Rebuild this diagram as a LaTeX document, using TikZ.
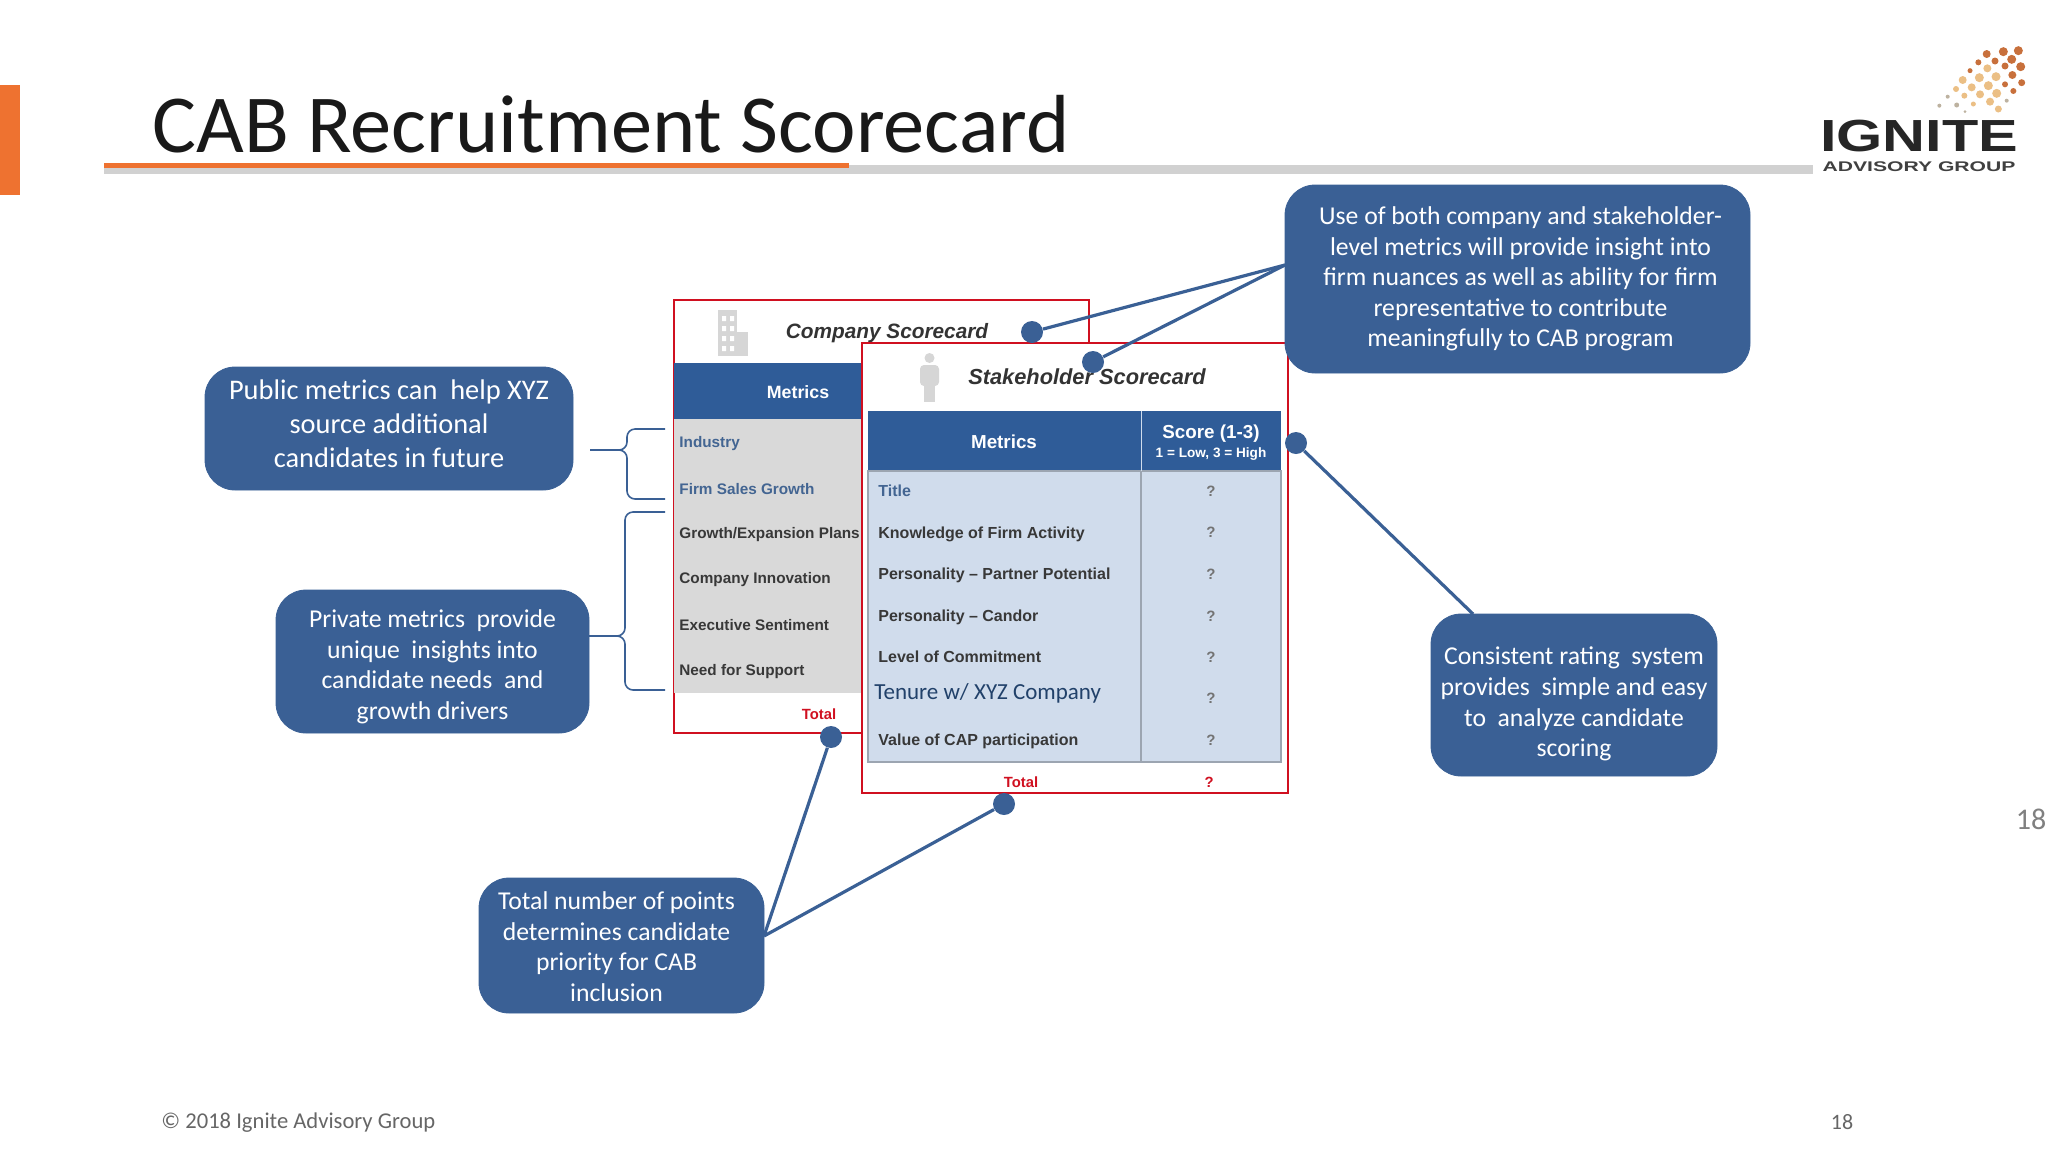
\documentclass[tikz,border=0pt]{standalone}
\usepackage{fontspec}
\setmainfont{Carlito}
\newfontfamily\tablefont{Liberation Sans}
\usetikzlibrary{shapes.geometric, arrows}
\definecolor{calloutblue}{HTML}{3A6095}
\definecolor{headblue}{HTML}{2F5C98}
\definecolor{rowblue}{HTML}{D0DCEC}
\definecolor{rowgray}{HTML}{D9D9D9}
\definecolor{framered}{HTML}{D01020}
\definecolor{iconsgray}{HTML}{D6D6D6}
\definecolor{barorange}{HTML}{EE7230}
\definecolor{logoA}{HTML}{C8703C}
\definecolor{logoB}{HTML}{EBBF85}
\definecolor{logoC}{HTML}{BDB2A0}
\tikzstyle{callout} = [rectangle, rounded corners=15pt, inner sep=0pt, align=center, text=white, fill=calloutblue, draw=calloutblue]
\tikzstyle{smalltext} = [font=\fontsize{12.85}{15.3}\selectfont]
\tikzstyle{scoreframe} = [rectangle, inner sep=0pt, draw=framered, line width=1pt]
\tikzstyle{headcell} = [rectangle, inner sep=0pt, fill=headblue, text=white, font=\tablefont\bfseries\fontsize{9.4}{11}\selectfont]
\tikzstyle{bodycell} = [rectangle, inner sep=0pt, draw=black!25!rowblue, line width=0.8pt, fill=rowblue]
\tikzstyle{cardtitle} = [inner sep=0pt, text=black!80, font=\tablefont\bfseries\itshape\fontsize{10.4}{12}\selectfont]
\tikzstyle{metric} = [anchor=west, inner sep=0pt, text=black!78, font=\tablefont\bfseries\fontsize{8}{9}\selectfont]
\tikzstyle{compmetric} = [metric, font=\tablefont\bfseries\fontsize{7.65}{9}\selectfont]
\tikzstyle{publicmetric} = [compmetric, text=headblue!75!gray]
\tikzstyle{scoremark} = [inner sep=0pt, text=black!55, font=\tablefont\bfseries\fontsize{7.5}{9}\selectfont]
\tikzstyle{totaltext} = [inner sep=0pt, text=framered, font=\tablefont\bfseries\fontsize{7.4}{9}\selectfont]
\tikzstyle{dot} = [circle, inner sep=0pt, minimum size=11pt, fill=calloutblue]
\tikzstyle{leader} = [line width=1.6pt, draw=calloutblue]
\tikzstyle{brace} = [line width=0.8pt, draw=calloutblue, rounded corners=4pt]
\begin{document}
\begin{tikzpicture}[x=0.5pt, y=-0.5pt]
\useasboundingbox (0,0) rectangle (2048,1152);

% Title and footer
\fill [barorange] (0,85) rectangle (20,195);
\node (title) [anchor=base west, inner sep=0pt, text=black!90, font=\fontsize{41.2}{44}\selectfont] at (152,152) {CAB Recruitment Scorecard};
\fill [black!18] (104,165) rectangle (1813,174);
\fill [barorange] (104,163) rectangle (849,168);
\node (copyright) [anchor=west, inner sep=0pt, text=black!60, font=\fontsize{11.3}{13}\selectfont] at (161,1123) {© 2018 Ignite Advisory Group};
\node (pagenum) [inner sep=0pt, text=black!60, font=\fontsize{11}{13}\selectfont] at (1842,1122) {18};
\node (sidenum) [inner sep=0pt, text=black!50, font=\fontsize{15}{17}\selectfont] at (2031,819) {18};

% Logo
\foreach \zx/\zy/\zc/\zr in {715/62/logoA/4.5, 670/65/logoA/4.5, 620/72/logoA/4, 695/88/logoA/4.5, 645/93/logoA/3.5, 595/97/logoA/3, 722/110/logoA/4.5, 675/108/logoA/3.5, 622/115/logoB/4, 570/122/logoA/2.5, 697/135/logoA/4, 648/140/logoB/4.5, 598/143/logoB/4.5, 548/150/logoB/4, 725/158/logoA/3.5, 675/163/logoA/3, 625/167/logoB/4.5, 575/172/logoB/4, 528/177/logoB/3, 700/183/logoA/3, 650/190/logoB/4.5, 600/193/logoB/4, 553/197/logoB/3, 503/200/logoC/2, 680/212/logoC/2, 630/215/logoB/4, 580/222/logoB/2.5, 530/225/logoC/2.5, 478/227/logoC/2, 655/237/logoB/3.5, 555/245/logoC/1.5}
  \fill [\zc] ({1780+\zx/3},{30+\zy/3}) circle (\zr);
\node (ignite) [inner sep=0pt, xscale=1.32, text=black!85, font=\tablefont\bfseries\fontsize{22.5}{24}\selectfont] at (1919,136) {IGNITE};
\node (advisory) [inner sep=0pt, xscale=1.51, text=black!75, font=\tablefont\bfseries\fontsize{7}{8}\selectfont] at (1919,167) {ADVISORY GROUP};

% Company scorecard
\node (company) [scoreframe, minimum width=207.5pt, minimum height=216.5pt] at (881.5,516.5) {};
\node (comphead) [headcell, minimum width=94pt, minimum height=28pt] at (768,391) {};
\node (compbody) [rectangle, inner sep=0pt, fill=rowgray, minimum width=94pt, minimum height=137pt] at (768,556) {};
\fill [iconsgray] (718,310) rectangle (737,356);
\fill [iconsgray] (737,332) rectangle (748,356);
\foreach \wy in {316,326,336,346}
  \fill [white] (722,\wy) rectangle (726,\wy+5) (730,\wy) rectangle (734,\wy+5);
\node (comptitle) [cardtitle] at (887,333) {Company Scorecard};
\node (compmetrics) [headcell, font=\tablefont\bfseries\fontsize{8.9}{11}\selectfont] at (798,392) {Metrics};
\node (industry) [publicmetric] at (679,444) {Industry};
\node (sales) [publicmetric] at (679,489) {Firm Sales Growth};
\node (growth) [compmetric] at (679,535) {Growth/Expansion Plans};
\node (innovation) [compmetric] at (679,580) {Company Innovation};
\node (sentiment) [compmetric] at (679,625) {Executive Sentiment};
\node (support) [compmetric] at (679,672) {Need for Support};
\node (comptotal) [totaltext] at (819,714) {Total};

% Stakeholder scorecard
\node (stake) [scoreframe, fill=white, minimum width=213pt, minimum height=225pt] at (1075,568) {};
\fill [iconsgray] (929.5,358) circle (5);
\fill [iconsgray, rounded corners=2pt] (920,365) rectangle (939,386);
\fill [iconsgray] (924,384) rectangle (935,402);
\node (stakehead) [headcell, minimum width=136.5pt, minimum height=30pt] at (1004.5,441) {};
\node (scorehead) [headcell, minimum width=70pt, minimum height=30pt] at (1211,441) {};
\node (stakebody) [bodycell, minimum width=136.5pt, minimum height=145.5pt] at (1004.5,616.5) {};
\node (scorebody) [bodycell, minimum width=70pt, minimum height=145.5pt] at (1211,616.5) {};
\draw [rowblue, line width=0.8pt] (stakehead.north east) -- (stakehead.south east);
\node (staketitle) [cardtitle, font=\tablefont\bfseries\itshape\fontsize{10.9}{12}\selectfont] at (1087,377) {Stakeholder Scorecard};
\node (stakemetrics) [headcell] at (1004,442) {Metrics};
\node (scoretext) [headcell] at (1211,434) {Score (1-3)};
\node (scorescale) [headcell, font=\tablefont\bfseries\fontsize{6.8}{8}\selectfont] at (1211,454) {1 = Low, 3 = High};
\node (titlerow) [metric, text=headblue!75!gray] at (878,491) {Title};
\node (knowledge) [metric] at (878,534) {Knowledge of Firm Activity};
\node (partner) [metric] at (878,575) {Personality – Partner Potential};
\node (candor) [metric] at (878,617) {Personality – Candor};
\node (commitment) [metric] at (878,657) {Level of Commitment};
\node (tenure) [anchor=west, inner sep=0pt, text=headblue!70!black, font=\fontsize{11.5}{13}\selectfont] at (874,693) {Tenure w/ XYZ Company};
\node (cap) [metric] at (878,741) {Value of CAP participation};
\foreach \qy in {491,532,574,616,657,698,740}
  \node (q\qy) [scoremark] at (1211,\qy) {?};
\node (staketotal) [totaltext] at (1021,782) {Total};
\node (scoretotal) [totaltext] at (1209,782) {?};

% Define the callouts
\node (usenote) [callout, smalltext, minimum width=232.5pt, minimum height=94pt] at (1517.5,279) {\hspace*{3pt}Use of both company and stakeholder-\\\hspace*{3pt}level metrics will provide insight into\\\hspace*{3pt}firm nuances as well as ability for firm\\\hspace*{3pt}representative to contribute\\\hspace*{3pt}meaningfully to CAB program\rule[-2pt]{0pt}{2pt}};
\node (publicnote) [callout, font=\fontsize{14.2}{17}\selectfont, minimum width=184pt, minimum height=61.5pt] at (389,428.5) {Public metrics can\ \ help XYZ\\source additional\\candidates in future\rule[-5pt]{0pt}{5pt}};
\node (privatenote) [callout, smalltext, minimum width=156.5pt, minimum height=71.5pt] at (432.5,661.5) {\rule{0pt}{14pt}Private metrics\ \ provide\\unique\ \ insights into\\candidate needs\ \ and\\growth drivers};
\node (ratingnote) [callout, smalltext, minimum width=143pt, minimum height=81pt] at (1574,695) {\rule{0pt}{18pt}Consistent rating\ \ system\\provides\ \ simple and easy\\to\ \ analyze candidate\\scoring};
\node (totalnote) [callout, smalltext, minimum width=142.5pt, minimum height=67.5pt] at (621.5,945.5) {\rule{0pt}{10pt}\hspace*{-5pt}Total number of points\\\hspace*{-5pt}determines candidate\\\hspace*{-5pt}priority for CAB\\\hspace*{-5pt}inclusion};

% Define the dots
\node (dotcompany) [dot] at (1032,332) {};
\node (dotstake) [dot] at (1093,362) {};
\node (dotscore) [dot] at (1296,443) {};
\node (dotcomptotal) [dot] at (831,737) {};
\node (dotstaketotal) [dot] at (1004,804) {};

% Free ends
\coordinate (usetip) at (1285,265);
\coordinate (ratingtip) at (1473,614);
\coordinate (totaltip) at (764,936);
\coordinate (pubtip) at (590,450);
\coordinate (pubmid) at (627,450);
\coordinate (pubtop) at (665,429);
\coordinate (pubbot) at (665,499);
\coordinate (privtip) at (589,636);
\coordinate (privmid) at (625,636);
\coordinate (privtop) at (665,512);
\coordinate (privbot) at (665,690);

% Draw the connectors
\draw [leader] (usetip) -- (dotcompany);
\draw [leader] (usetip) -- (dotstake);
\draw [leader] (ratingtip) -- (dotscore);
\draw [leader] (totaltip) -- (dotcomptotal);
\draw [leader] (totaltip) -- (dotstaketotal);
\draw [brace] (pubtop) -| (pubmid) -- (pubtip) (pubtip) -- (pubmid) |- (pubbot);
\draw [brace] (privtop) -| (privmid) -- (privtip) (privtip) -- (privmid) |- (privbot);

\end{tikzpicture}
\end{document}
